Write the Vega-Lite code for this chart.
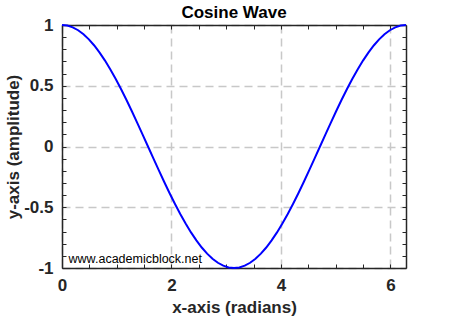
{
  "$schema": "https://vega.github.io/schema/vega-lite/v6.json",
  "width": 344,
  "height": 243,
  "autosize": {"type": "none"},
  "padding": {"left": 62, "top": 25, "right": 44, "bottom": 52},
  "background": "white",
  "config": {
    "font": "Liberation Sans",
    "view": {"stroke": null},
    "axis": {"domainColor": "#262626", "domainWidth": 1.5, "tickColor": "#262626", "labelColor": "#262626", "titleColor": "#262626"}
  },
  "title": {"text": "Cosine Wave", "fontSize": 17, "fontWeight": "bold", "color": "#000000", "offset": 4, "dy": 10, "font": "Liberation Sans"},
  "datasets": {
    "wave": [
      {"x": 0, "y": 1}, {"x": 0.09817, "y": 0.99518}, {"x": 0.19635, "y": 0.98079}, {"x": 0.29452, "y": 0.95694},
      {"x": 0.3927, "y": 0.92388}, {"x": 0.49087, "y": 0.88192}, {"x": 0.58905, "y": 0.83147}, {"x": 0.68722, "y": 0.77301},
      {"x": 0.7854, "y": 0.70711}, {"x": 0.88357, "y": 0.63439}, {"x": 0.98175, "y": 0.55557}, {"x": 1.07992, "y": 0.4714},
      {"x": 1.1781, "y": 0.38268}, {"x": 1.27627, "y": 0.29028}, {"x": 1.37445, "y": 0.19509}, {"x": 1.47262, "y": 0.09802},
      {"x": 1.5708, "y": 0}, {"x": 1.66897, "y": -0.09802}, {"x": 1.76715, "y": -0.19509}, {"x": 1.86532, "y": -0.29028},
      {"x": 1.9635, "y": -0.38268}, {"x": 2.06167, "y": -0.4714}, {"x": 2.15984, "y": -0.55557}, {"x": 2.25802, "y": -0.63439},
      {"x": 2.35619, "y": -0.70711}, {"x": 2.45437, "y": -0.77301}, {"x": 2.55254, "y": -0.83147}, {"x": 2.65072, "y": -0.88192},
      {"x": 2.74889, "y": -0.92388}, {"x": 2.84707, "y": -0.95694}, {"x": 2.94524, "y": -0.98079}, {"x": 3.04342, "y": -0.99518},
      {"x": 3.14159, "y": -1}, {"x": 3.23977, "y": -0.99518}, {"x": 3.33794, "y": -0.98079}, {"x": 3.43612, "y": -0.95694},
      {"x": 3.53429, "y": -0.92388}, {"x": 3.63247, "y": -0.88192}, {"x": 3.73064, "y": -0.83147}, {"x": 3.82882, "y": -0.77301},
      {"x": 3.92699, "y": -0.70711}, {"x": 4.02517, "y": -0.63439}, {"x": 4.12334, "y": -0.55557}, {"x": 4.22152, "y": -0.4714},
      {"x": 4.31969, "y": -0.38268}, {"x": 4.41786, "y": -0.29028}, {"x": 4.51604, "y": -0.19509}, {"x": 4.61421, "y": -0.09802},
      {"x": 4.71239, "y": 0}, {"x": 4.81056, "y": 0.09802}, {"x": 4.90874, "y": 0.19509}, {"x": 5.00691, "y": 0.29028},
      {"x": 5.10509, "y": 0.38268}, {"x": 5.20326, "y": 0.4714}, {"x": 5.30144, "y": 0.55557}, {"x": 5.39961, "y": 0.63439},
      {"x": 5.49779, "y": 0.70711}, {"x": 5.59596, "y": 0.77301}, {"x": 5.69414, "y": 0.83147}, {"x": 5.79231, "y": 0.88192},
      {"x": 5.89049, "y": 0.92388}, {"x": 5.98866, "y": 0.95694}, {"x": 6.08684, "y": 0.98079}, {"x": 6.18501, "y": 0.99518},
      {"x": 6.28319, "y": 1}
    ],
    "note": [{"x": 0.12, "y": -0.955, "label": "www.academicblock.net"}]
  },
  "layer": [
    {
      "data": {"name": "wave"},
      "mark": {"type": "line", "opacity": 0},
      "encoding": {
        "x": {"field": "x", "type": "quantitative", "scale": {"domain": [0, 6.28319], "nice": false, "zero": false},
          "axis": {"orient": "bottom", "values": [0, 2, 4, 6], "ticks": false, "domain": true, "grid": true, "gridDash": [8, 5], "gridColor": "#c8c8c8", "gridWidth": 1.5,
            "labelFontSize": 17, "labelFontWeight": "bold", "labelPadding": 9, "labelFlush": false,
            "title": "x-axis (radians)", "titleFontSize": 17, "titleFontWeight": "bold", "titlePadding": 6}},
        "y": {"field": "y", "type": "quantitative", "scale": {"domain": [-1, 1], "nice": false, "zero": false},
          "axis": {"orient": "left", "values": [-1, -0.5, 0, 0.5, 1], "ticks": false, "domain": true, "grid": true, "gridDash": [8, 5], "gridColor": "#c8c8c8", "gridWidth": 1.5,
            "labelFontSize": 17, "labelFontWeight": "bold", "labelPadding": 9, "labelFlush": false, "labelExpr": "'' + datum.value",
            "title": "y-axis (amplitude)", "titleFontSize": 17, "titleFontWeight": "bold", "titlePadding": 1}}
      }
    },
    {
      "data": {"name": "wave"},
      "mark": {"type": "line", "opacity": 0},
      "encoding": {
        "x": {"field": "x", "type": "quantitative",
          "axis": {"orient": "bottom", "values": [0, 0.5, 1, 1.5, 2, 2.5, 3, 3.5, 4, 4.5, 5, 5.5, 6], "ticks": true, "tickSize": -4, "tickWidth": 1, "labels": false, "domain": false, "grid": false, "title": null}},
        "y": {"field": "y", "type": "quantitative",
          "axis": {"orient": "left", "values": [-1, -0.9, -0.8, -0.7, -0.6, -0.5, -0.4, -0.3, -0.2, -0.1, 0, 0.1, 0.2, 0.3, 0.4, 0.5, 0.6, 0.7, 0.8, 0.9, 1], "ticks": true, "tickSize": -4, "tickWidth": 1, "labels": false, "domain": false, "grid": false, "title": null}}
      }
    },
    {
      "data": {"name": "wave"},
      "mark": {"type": "line", "opacity": 0},
      "encoding": {
        "x": {"field": "x", "type": "quantitative",
          "axis": {"orient": "top", "values": [0, 0.5, 1, 1.5, 2, 2.5, 3, 3.5, 4, 4.5, 5, 5.5, 6], "ticks": true, "tickSize": -4, "tickWidth": 1, "labels": false, "domain": true, "grid": false, "title": null}},
        "y": {"field": "y", "type": "quantitative",
          "axis": {"orient": "right", "values": [-1, -0.9, -0.8, -0.7, -0.6, -0.5, -0.4, -0.3, -0.2, -0.1, 0, 0.1, 0.2, 0.3, 0.4, 0.5, 0.6, 0.7, 0.8, 0.9, 1], "ticks": true, "tickSize": -4, "tickWidth": 1, "labels": false, "domain": true, "grid": false, "title": null}}
      }
    },
    {
      "data": {"name": "wave"},
      "mark": {"type": "line", "color": "#0000ff", "strokeWidth": 2, "clip": false},
      "encoding": {
        "x": {"field": "x", "type": "quantitative", "axis": null},
        "y": {"field": "y", "type": "quantitative", "axis": null}
      }
    },
    {
      "data": {"name": "note"},
      "mark": {"type": "text", "align": "left", "baseline": "alphabetic", "fontSize": 12.5, "color": "#000000", "font": "Liberation Sans"},
      "encoding": {
        "x": {"field": "x", "type": "quantitative", "axis": null},
        "y": {"field": "y", "type": "quantitative", "axis": null},
        "text": {"field": "label"}
      }
    }
  ],
  "resolve": {"axis": {"x": "independent", "y": "independent"}}
}
